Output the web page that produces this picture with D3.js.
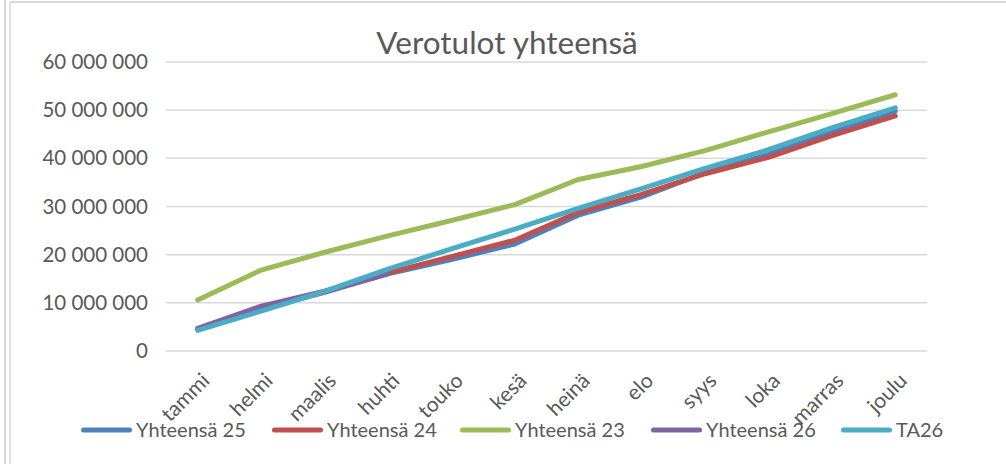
<!DOCTYPE html>
<html>
<head>
<meta charset="utf-8">
<script src="https://cdn.jsdelivr.net/npm/d3@7"></script>
<style>
  body { margin: 0; background: #fff; }
  #chart text { font-family: Lato, "Open Sans", sans-serif; fill: #595959; }
</style>
</head>
<body>
<div id="chart"></div>
<script>
const months = ["tammi", "helmi", "maalis", "huhti", "touko", "kesä", "heinä", "elo", "syys", "loka", "marras", "joulu"];
const yTicks = [0, 10000000, 20000000, 30000000, 40000000, 50000000, 60000000];

const yht25 = [4.4, 8.7, 12.2, 16.0, 19.0, 22.2, 28.2, 32.0, 37.0, 40.8, 45.4, 49.8];
const yht24 = [4.5, 8.8, 12.3, 16.2, 19.6, 23.0, 28.8, 32.5, 36.8, 40.2, 44.7, 48.8];
const yht23 = [10.6, 16.8, 20.5, 23.9, 27.1, 30.4, 35.6, 38.3, 41.6, 45.5, 49.3, 53.2];
const yht26 = [4.7, 9.3, 12.4, 16.0];
const ta26 = [4.3, 8.3, 12.4, 17.0, 21.2, 25.3, 29.6, 33.7, 37.9, 41.8, 46.3, 50.5];

const series = [
  { name: "Yhteensä 25", color: "#4F81BD", values: yht25 },
  { name: "Yhteensä 24", color: "#C0504D", values: yht24 },
  { name: "Yhteensä 23", color: "#9BBB59", values: yht23 },
  { name: "Yhteensä 26", color: "#8064A2", values: yht26 },
  { name: "TA26", color: "#4BACC6", values: ta26 }
];

const width = 1006, height = 464;
const margin = { top: 62, right: 79, bottom: 113, left: 166 };
const innerW = width - margin.left - margin.right;
const innerH = height - margin.top - margin.bottom;

const svg = d3.select("#chart").append("svg")
  .attr("width", width)
  .attr("height", height);

// outer frames
svg.append("line").attr("x1", 5).attr("x2", 5).attr("y1", 0).attr("y2", height)
  .attr("stroke", "#d9d9d9").attr("stroke-width", 2);
svg.append("line").attr("x1", 10).attr("x2", 10).attr("y1", 2).attr("y2", height)
  .attr("stroke", "#d9d9d9").attr("stroke-width", 1.5);
svg.append("line").attr("x1", 10).attr("x2", width).attr("y1", 2).attr("y2", 2)
  .attr("stroke", "#d9d9d9").attr("stroke-width", 2);

const g = svg.append("g").attr("transform", `translate(${margin.left},${margin.top})`);

const x = d3.scaleBand().domain(months).range([0, innerW]);
const y = d3.scaleLinear().domain([0, 60000000]).range([innerH, 0]);

// gridlines
g.append("g")
  .selectAll("line")
  .data(yTicks)
  .join("line")
  .attr("x1", 0)
  .attr("x2", innerW)
  .attr("y1", (d) => y(d))
  .attr("y2", (d) => y(d))
  .attr("stroke", "#d9d9d9")
  .attr("stroke-width", 1.5);

// y axis labels
const fmt = (d) => d3.format(",")(d).replace(/,/g, " ");
g.append("g")
  .call(d3.axisLeft(y).tickValues(yTicks).tickSize(0).tickPadding(18).tickFormat(fmt))
  .call((a) => a.select(".domain").remove())
  .selectAll("text")
  .style("font-size", "20.5px");

// x axis labels
g.append("g")
  .attr("transform", `translate(0,${innerH})`)
  .call(d3.axisBottom(x).tickSize(0).tickPadding(0))
  .call((a) => a.select(".domain").remove())
  .selectAll("text")
  .style("font-size", "21px")
  .style("text-anchor", "end")
  .attr("dy", 0)
  .attr("y", 0)
  .attr("transform", "translate(13,31) rotate(-45)");

// lines
const line = d3.line()
  .x((d, i) => x(months[i]) + x.bandwidth() / 2)
  .y((d) => y(d * 1000000));

g.selectAll(".series")
  .data(series)
  .join("path")
  .attr("class", "series")
  .attr("fill", "none")
  .attr("stroke", (d) => d.color)
  .attr("stroke-width", 5)
  .attr("stroke-linecap", "round")
  .attr("stroke-linejoin", "round")
  .attr("d", (d) => line(d.values));

// title
svg.append("text")
  .attr("x", 507)
  .attr("y", 54)
  .attr("text-anchor", "middle")
  .style("font-size", "31.5px")
  .text("Verotulot yhteensä");

// legend
const legendX = [81, 272, 460, 651, 841];
const legend = svg.append("g").selectAll("g")
  .data(series)
  .join("g")
  .attr("transform", (d, i) => `translate(${legendX[i]},430)`);

legend.append("line")
  .attr("x1", 2.5)
  .attr("x2", 48.5)
  .attr("stroke", (d) => d.color)
  .attr("stroke-width", 5)
  .attr("stroke-linecap", "round");

legend.append("text")
  .attr("x", 55)
  .attr("dy", "0.35em")
  .style("font-size", "20px")
  .text((d) => d.name);
</script>
</body>
</html>
